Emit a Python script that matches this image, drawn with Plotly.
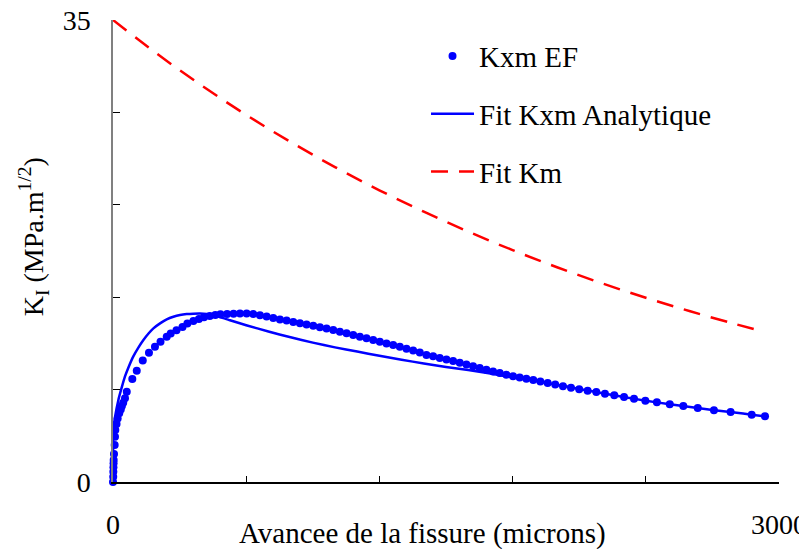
import plotly.graph_objects as go

# Kxm EF (finite element points)
ef_x = [0, 1, 1.5, 2, 2.5, 3, 4.5, 7.5, 9, 10.5, 16, 21, 28, 35, 40, 46, 54, 62,
        87, 107, 134, 162, 189, 214, 242, 260, 286, 313, 335, 362, 387, 410, 436,
        461, 484, 514, 543, 572,
        602, 632, 662, 692, 722, 752, 782, 812, 842, 872, 902, 932, 962, 992,
        1022, 1052, 1082, 1112, 1142, 1172, 1202, 1232, 1262, 1292, 1322, 1352,
        1382, 1412, 1442, 1472, 1502, 1532, 1562, 1592, 1622, 1652, 1682, 1712,
        1742, 1772, 1802, 1832, 1862, 1893, 1925, 1958, 1992, 2027, 2063, 2100,
        2138, 2177, 2216, 2258, 2302, 2347, 2398, 2450, 2508, 2569, 2634, 2707,
        2782, 2877, 2937]
ef_y = [0, 0.4, 0.78, 1.11, 1.42, 1.67, 2.12, 2.8, 3.43, 3.94, 4.39, 4.82, 5.2,
        5.5, 5.76, 6.0, 6.34, 6.84,
        7.8, 8.43, 9.2, 9.8, 10.25, 10.63, 11.0, 11.25, 11.5, 11.75, 12.0, 12.2,
        12.35, 12.48, 12.58, 12.65, 12.7, 12.73, 12.75, 12.77,
        12.77, 12.72, 12.63, 12.54, 12.43, 12.32, 12.23, 12.13, 12.03, 11.93,
        11.83, 11.72, 11.62, 11.51, 11.39, 11.27, 11.14, 11.01, 10.89, 10.76,
        10.63, 10.5, 10.37, 10.24, 10.1, 9.96, 9.82, 9.62, 9.52, 9.40, 9.28,
        9.16, 9.04, 8.90, 8.77, 8.64, 8.51, 8.38, 8.25, 8.13, 8.02, 7.92, 7.82,
        7.72, 7.61, 7.50, 7.38, 7.26, 7.14, 7.03, 6.92, 6.81, 6.69, 6.57, 6.44,
        6.31, 6.16, 6.04, 5.89, 5.76, 5.61, 5.43, 5.30, 5.10, 4.98]

# Fit Kxm Analytique
fit_x = [0, 0.5, 1.5, 10, 24, 40, 54, 70, 91, 115, 137, 160, 182, 212, 242,
         272, 302, 332, 362, 392, 422, 445, 467, 527, 600, 700, 800, 900, 1000,
         1100, 1200, 1300, 1400, 1500, 1600, 1700, 1800, 1900, 2000, 2100,
         2216, 2300, 2400, 2500, 2600, 2700, 2800, 2877, 2937]
fit_y = [0, 2.0, 3.9, 5.0, 6.2, 7.2, 8.0, 8.7, 9.5, 10.2, 10.76, 11.25, 11.64,
         12.02, 12.32, 12.52, 12.65, 12.72, 12.75, 12.76, 12.73, 12.67, 12.58,
         12.25, 11.88, 11.4, 10.96, 10.56, 10.2, 9.88, 9.56, 9.26, 8.98, 8.72,
         8.48, 8.22, 7.93, 7.66, 7.37, 7.05, 6.69, 6.44, 6.16, 5.91, 5.69, 5.45,
         5.26, 5.10, 4.98]

# Fit Km
km_x = [0, 200, 400, 600, 800, 1000, 1200, 1400, 1600, 1800, 2000, 2200, 2400,
        2600, 2800, 2914]
km_y = [35, 32.42, 30.03, 27.81, 25.76, 23.86, 22.1, 20.48, 18.97, 17.57,
        16.27, 15.07, 13.96, 12.93, 11.98, 11.47]

x_ticks = [0, 600, 1200, 1800, 2400, 3000]
x_ticktext = ["0", "", "", "", "", "3000"]
y_ticks = [0, 7, 14, 21, 28, 35]
y_ticktext = ["0", "", "", "", "", "35"]

FONT = "Liberation Serif"
BLUE = "#0000ff"
RED = "#ff0000"

fig = go.Figure()
fig.add_trace(go.Scatter(
    x=ef_x, y=ef_y, mode="markers", name="Kxm EF",
    marker=dict(color=BLUE, size=8, line=dict(width=0)),
    cliponaxis=False, legendgroup="a"))
fig.add_trace(go.Scatter(
    x=fit_x, y=fit_y, mode="lines", name="Fit Kxm Analytique",
    line=dict(color=BLUE, width=2.5, shape="spline", smoothing=0.5),
    legendgroup="b"))
fig.add_trace(go.Scatter(
    x=km_x, y=km_y, mode="lines", name="Fit Km",
    line=dict(color=RED, width=2.5, dash="17px,11px", shape="spline"),
    legendgroup="c"))

# the page body adds an 8 px offset, so the figure is 8 px smaller
fig.update_layout(
    width=799, height=541,
    margin=dict(l=105, r=28, t=12, b=67, autoexpand=False),
    paper_bgcolor="white", plot_bgcolor="white",
    font=dict(family=FONT, size=28, color="black"),
    showlegend=True,
    legend=dict(x=0.47, y=0.977, xanchor="left", yanchor="top",
                bgcolor="rgba(0,0,0,0)", font=dict(size=29, family=FONT),
                tracegroupgap=17, itemwidth=43, traceorder="grouped"),
    xaxis=dict(range=[0, 3000], tickvals=x_ticks, ticktext=x_ticktext,
               ticks="inside", ticklen=6, tickcolor="black", tickwidth=1,
               showline=True, linecolor="black", linewidth=1.5,
               showgrid=False, zeroline=False, ticklabelstandoff=17,
               ticklabeloverflow="allow",
               automargin=False, tickfont=dict(size=28, family=FONT)),
    yaxis=dict(range=[0, 35], tickvals=y_ticks, ticktext=y_ticktext,
               ticks="inside", ticklen=7, tickcolor="black", tickwidth=1,
               showline=True, linecolor="#808080", linewidth=1.5,
               showgrid=False, zeroline=False, ticklabelstandoff=15,
               ticklabeloverflow="allow",
               automargin=False, tickfont=dict(size=28, family=FONT)),
    annotations=[
        dict(text="Avancee de la fissure (microns)", xref="paper", yref="paper",
             x=0.464, y=-0.112, xanchor="center", yanchor="middle",
             showarrow=False, font=dict(size=29, family=FONT)),
        dict(text="K<sub>I</sub> (MPa.m<sup>1/2</sup>)", xref="paper", yref="paper",
             x=-0.12, y=0.53, xanchor="center", yanchor="middle", textangle=-90,
             showarrow=False, font=dict(size=28, family=FONT)),
    ],
)

fig.write_html("out.html")
